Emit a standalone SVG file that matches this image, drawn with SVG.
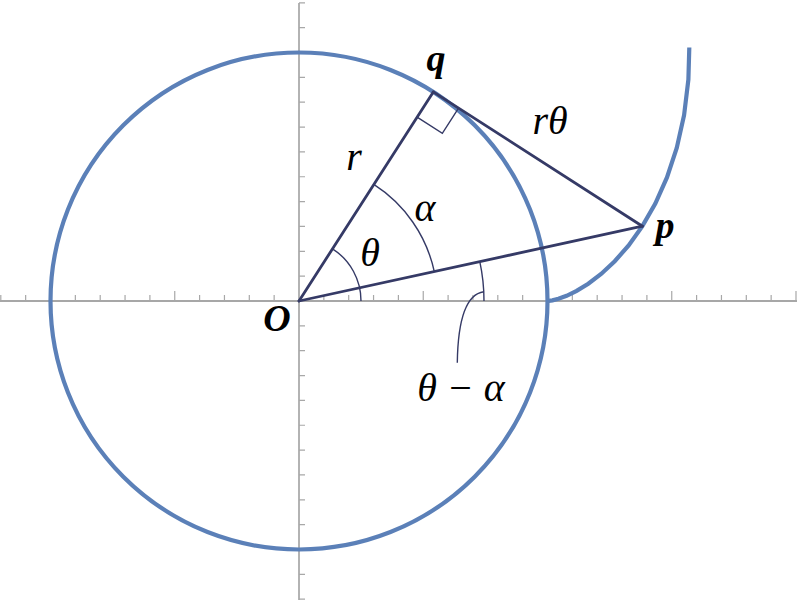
<svg xmlns="http://www.w3.org/2000/svg" width="797" height="604" viewBox="0 0 797 604">
<style>
.axis{stroke:#8a8a8a;stroke-width:1.3;fill:none}
.tick{stroke:#a8a8a8;stroke-width:1.2;fill:none}
.curve{stroke:#5b80b8;stroke-width:4.2;fill:none}
.seg{stroke:#353a66;stroke-width:2.8;fill:none;stroke-linecap:round}
.thin{stroke:#353a66;stroke-width:1.4;fill:none}
.lbl{font-family:"Liberation Serif","Times New Roman",serif;font-style:italic;font-size:40px;fill:#000;text-anchor:middle}
.pt{font-family:"Liberation Serif","Times New Roman",serif;font-style:italic;font-weight:bold;font-size:38px;fill:#000;text-anchor:middle}
</style>
<rect width="797" height="604" fill="#ffffff"/>
<g id="axes">
<line class="axis" x1="0" y1="301" x2="797" y2="301"/>
<line class="axis" x1="299" y1="3" x2="299" y2="600"/>
<path class="tick" d="M0.8 295V301M25.65 295V301M50.5 291V301M75.35 295V301M100.2 295V301M125.05 295V301M149.9 295V301M174.75 291V301M199.6 295V301M224.45 295V301M249.3 295V301M274.15 295V301M323.85 295V301M348.7 295V301M373.55 295V301M398.4 295V301M423.25 291V301M448.1 295V301M472.95 295V301M497.8 295V301M522.65 295V301M547.5 291V301M572.35 295V301M597.2 295V301M622.05 295V301M646.9 295V301M671.75 291V301M696.6 295V301M721.45 295V301M746.3 295V301M771.15 295V301M796 291V301"/>
<path class="tick" d="M299 2.8H305M299 27.65H305M299 52.5H305M299 77.35H305M299 102.2H305M299 127.05H305M299 151.9H305M299 176.75H305M299 201.6H305M299 226.45H305M299 251.3H305M299 276.15H305M299 325.85H305M299 350.7H305M299 375.55H305M299 400.4H305M299 425.25H305M299 450.1H305M299 474.95H305M299 499.8H305M299 524.65H305M299 549.5H305M299 574.35H305M299 599.2H305"/>
</g>
<g id="circle">
<circle class="curve" cx="299" cy="301" r="248.5"/>
</g>
<g id="involute">
<polyline class="curve" points="547.5,301 548.74,300.92 552.42,300.34 558.43,298.78 566.59,295.78 576.65,290.9 588.28,283.74 601.12,273.96 614.74,261.24 628.66,245.37 642.37,226.16 655.33,203.53 666.98,177.44 676.75,147.97 684.08,115.25 688.39,79.49 689.3,47.5"/>
</g>
<g id="connectors">
<line class="seg" x1="299" y1="301" x2="433.3" y2="91.9"/>
<line class="seg" x1="433.3" y1="91.9" x2="642.4" y2="226.2"/>
<line class="seg" x1="299" y1="301" x2="642.4" y2="226.2"/>
<polyline class="thin" points="417.1,117.15 442.34,133.36 458.55,108.11"/>
<path class="thin" d="M361 301A62 62 0 0 0 332.5 248.8"/>
<path class="thin" d="M434.3 271.6A138.5 138.5 0 0 0 373.8 184.45"/>
<path class="thin" d="M484 301A185 185 0 0 0 479.8 261.7"/>
<path class="thin" d="M483.8 291.8C468 294 458 316 457.3 362.7"/>
</g>
<g id="labels">
<text class="pt" x="436" y="71">q</text>
<text class="pt" x="665" y="238">p</text>
<text class="pt" x="277" y="331">O</text>
<text class="lbl" x="354" y="170">r</text>
<text class="lbl" x="550" y="134">rθ</text>
<text class="lbl" x="425" y="221">α</text>
<text class="lbl" x="370" y="266">θ</text>
<text class="lbl" x="461" y="401">θ − α</text>
</g>
</svg>
